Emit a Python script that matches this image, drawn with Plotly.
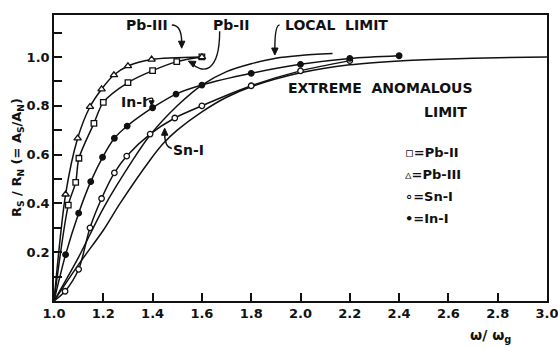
import plotly.graph_objects as go

# ---- data ----
pb2_x = [1.0, 1.058, 1.088, 1.101, 1.162, 1.20, 1.30, 1.40, 1.498, 1.60]
pb2_y = [0.0, 0.393, 0.486, 0.585, 0.728, 0.814, 0.895, 0.944, 0.981, 1.0]

pb3_x = [1.0, 1.047, 1.096, 1.146, 1.193, 1.243, 1.30, 1.396, 1.60]
pb3_y = [0.0, 0.437, 0.667, 0.796, 0.868, 0.926, 0.963, 0.990, 1.0]

sn_x = [1.0, 1.045, 1.10, 1.146, 1.193, 1.245, 1.295, 1.39, 1.49, 1.60, 1.80, 2.00, 2.20]
sn_y = [0.0, 0.04, 0.13, 0.30, 0.42, 0.525, 0.594, 0.684, 0.75, 0.80, 0.882, 0.943, 0.985]

in_x = [1.0, 1.047, 1.10, 1.149, 1.197, 1.245, 1.297, 1.40, 1.495, 1.60, 1.80, 2.00, 2.20, 2.40]
in_y = [0.0, 0.19, 0.36, 0.489, 0.589, 0.667, 0.717, 0.792, 0.848, 0.885, 0.933, 0.970, 0.994, 1.005]

local_x = [1.0, 1.10, 1.20, 1.32, 1.39, 1.50, 1.60, 1.70, 1.80, 1.90, 2.00, 2.13]
local_y = [0.0, 0.18, 0.38, 0.578, 0.68, 0.80, 0.885, 0.94, 0.972, 0.995, 1.006, 1.014]

ea_x = [1.0, 1.10, 1.20, 1.268, 1.39, 1.443, 1.50, 1.60, 1.70, 1.80, 2.00, 2.20, 2.40, 2.60, 2.80, 3.00]
ea_y = [0.0, 0.15, 0.29, 0.40, 0.578, 0.645, 0.70, 0.775, 0.835, 0.878, 0.935, 0.968, 0.984, 0.992, 0.997, 1.0]

x_ticks = [1.0, 1.2, 1.4, 1.6, 1.8, 2.0, 2.2, 2.4, 2.6, 2.8, 3.0]
x_tick_text = ["1.0", "1.2", "1.4", "1.6", "1.8", "2.0", "2.2", "2.4", "2.6", "2.8", "3.0"]
y_ticks = [0.2, 0.4, 0.6, 0.8, 1.0]
y_tick_text = ["0.2", "0.4", "0.6", "0.8", "1.0"]

FONT = "DejaVu Sans"
BLACK = "#111"
X0, X1, Y0, Y1 = 1.0, 3.0, 0.0, 1.172
PLOT_W, PLOT_H = 493, 286
SX = PLOT_W / (X1 - X0)
SY = PLOT_H / (Y1 - Y0)

fig = go.Figure()

def curve(xs, ys, symbol=None, size=6, fill="white"):
    fig.add_trace(go.Scatter(x=xs, y=ys, mode="lines",
                             line=dict(color=BLACK, width=1.5, shape="spline", smoothing=0.8),
                             showlegend=False, hoverinfo="skip"))
    if symbol:
        fig.add_trace(go.Scatter(x=xs[1:], y=ys[1:], mode="markers",
                                 marker=dict(symbol=symbol, size=size, color=fill,
                                             line=dict(color=BLACK, width=1.3)),
                                 showlegend=False, hoverinfo="skip"))

curve(local_x, local_y)
curve(ea_x, ea_y)
curve(pb2_x, pb2_y, "square", 5.5)
curve(pb3_x, pb3_y, "triangle-up", 6.5)
curve(sn_x, sn_y, "circle", 5.5)
curve(in_x, in_y, "circle", 5.5, BLACK)

big = dict(family=FONT, size=14, color=BLACK, weight="bold")
tick = dict(family=FONT, size=13, color=BLACK, weight="bold")
anns = []

def label(x, y, s, font=big, **kw):
    d = dict(x=x, y=y, xref="x", yref="y", text=s, showarrow=False, font=font)
    d.update(kw)
    anns.append(d)

label(1.376, 1.131, "Pb-III")
label(1.72, 1.131, "Pb-II")
label(2.147, 1.131, "LOCAL  LIMIT")
label(2.326, 0.871, "EXTREME  ANOMALOUS")
label(2.589, 0.776, "LIMIT")
label(1.324, 0.817, "In-I")
label(1.545, 0.619, "Sn-I")

leg = dict(family=FONT, size=13, color=BLACK, weight="bold")
label(2.415, 0.607, "▫=Pb-II", font=leg, xanchor="left")
label(2.415, 0.520, "▵=Pb-III", font=leg, xanchor="left")
label(2.415, 0.430, "∘=Sn-I", font=leg, xanchor="left")
label(2.415, 0.340, "•=In-I", font=leg, xanchor="left")

anns.append(dict(x=(490 - 54) / PLOT_W, y=-35 / PLOT_H, xref="paper", yref="paper",
                 xanchor="center", yanchor="middle",
                 text="ω/ ω<sub>g</sub>", showarrow=False, font=big))
anns.append(dict(x=(17 - 54) / PLOT_W, y=0.50, xref="paper", yref="paper", showarrow=False,
                 textangle=-90, xanchor="center", yanchor="middle",
                 text="R<sub>S</sub> / R<sub>N</sub> (= A<sub>S</sub>/A<sub>N</sub>)",
                 font=dict(family=FONT, size=13, color=BLACK, weight="bold")))

shapes = []
def path(p):
    shapes.append(dict(type="path", path=p, xref="x", yref="y",
                       line=dict(color=BLACK, width=1.4)))

def head(tx, ty, dx, dy, L=7.0, W=3.2):
    n = (dx * dx + dy * dy) ** 0.5
    dx, dy = dx / n, dy / n
    px, py = -dy, dx
    pts = []
    for s in (1, -1):
        ox = -L * dx + s * W * px
        oy = -L * dy + s * W * py
        pts.append((tx + ox / SX, ty + oy / SY))
    p = f"M {tx},{ty} L {pts[0][0]},{pts[0][1]} L {pts[1][0]},{pts[1][1]} Z"
    shapes.append(dict(type="path", path=p, xref="x", yref="y",
                       line=dict(color=BLACK, width=1), fillcolor=BLACK))

path("M 1.478,1.131 Q 1.518,1.131 1.518,1.06")
head(1.518, 1.036, 0, -1)

path("M 1.672,1.105 C 1.672,0.93 1.60,0.93 1.556,0.976")
head(1.545, 0.983, -1, 0.5)

path("M 1.915,1.131 Q 1.896,1.131 1.896,1.035")
head(1.896, 1.008, 0, -1)

path("M 1.478,0.625 Q 1.449,0.63 1.449,0.685")
head(1.449, 0.708, 0, 1)

path("M 1.372,0.822 Q 1.41,0.845 1.398,0.812")
head(1.396, 0.800, 0, -1, L=5, W=2.5)

axis_common = dict(ticks="inside", ticklen=8, tickwidth=1.5, tickcolor=BLACK,
                   showline=True, linecolor=BLACK, linewidth=1.5, mirror=True,
                   showgrid=False, zeroline=False, tickfont=tick,
                   ticklabeloverflow="allow", automargin=False)

fig.update_layout(
    width=558, height=348,
    margin=dict(l=54, r=11, t=15, b=47, autoexpand=False),
    paper_bgcolor="white", plot_bgcolor="white",
    hovermode=False,
    annotations=anns, shapes=shapes,
    xaxis=dict(range=[X0, X1], tickvals=x_ticks, ticktext=x_tick_text, **axis_common),
    yaxis=dict(range=[Y0, Y1], tickvals=y_ticks, ticktext=y_tick_text,
               minor=dict(ticks="inside", ticklen=8, tickwidth=1.5, tickcolor=BLACK,
                          tick0=0.1, dtick=0.2, showgrid=False),
               **axis_common),
)

# remove the browser's default 8px page margin so the figure sits at the page origin
fig.write_html("out.html", config={"displayModeBar": False},
               post_script="document.body.style.margin='0';document.body.style.overflow='hidden';")
